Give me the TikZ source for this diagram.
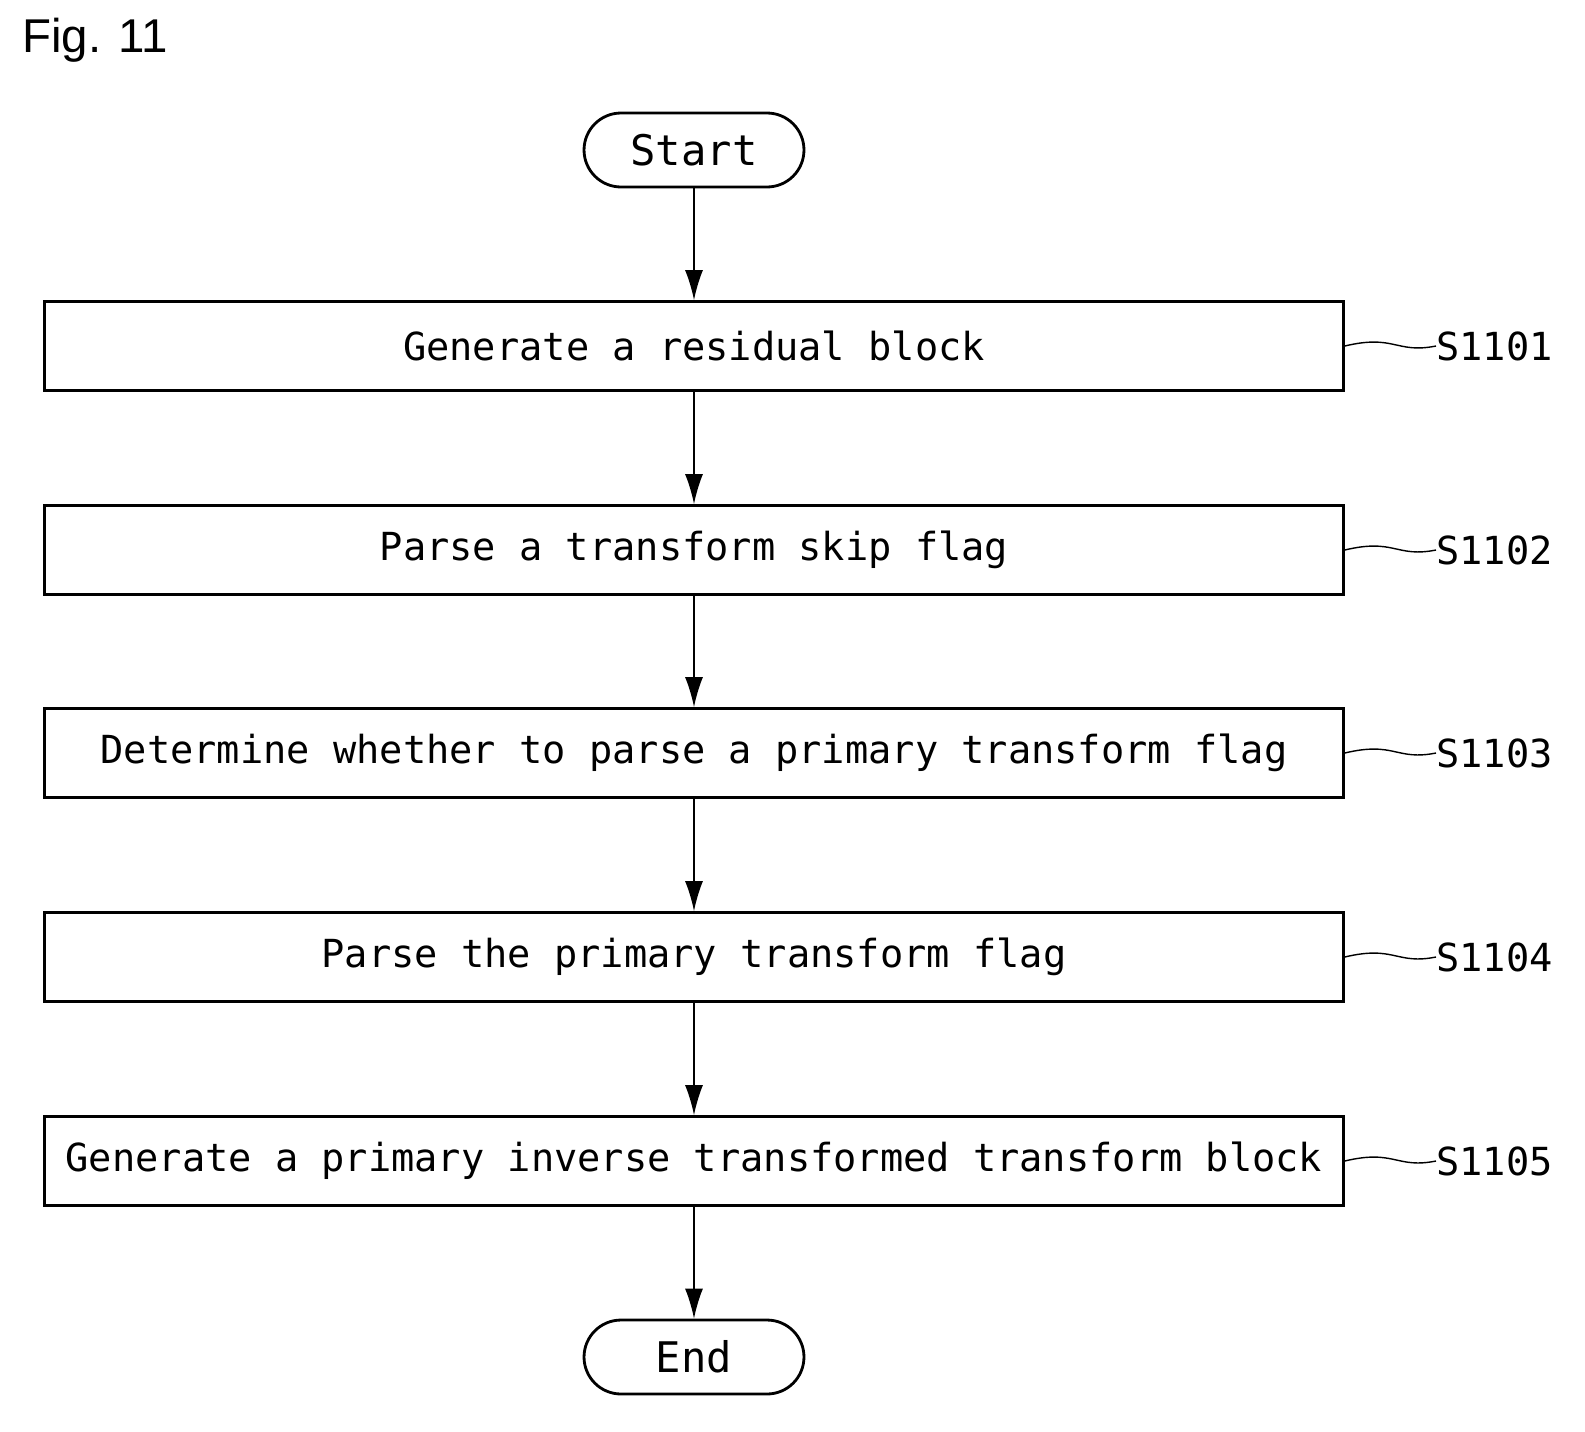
\documentclass[tikz,border=0pt]{standalone}
\usepackage{fontspec}
\setmonofont{DejaVu Sans Mono}
\setsansfont{Liberation Sans}
\usetikzlibrary{arrows.meta,positioning}
\tikzset{
  procbox/.style={draw,line width=1.6pt,minimum width=25.98cm,minimum height=1.78cm,font=\ttfamily\fontsize{22}{26}\selectfont},
  term/.style={draw,line width=1.6pt,rounded corners=0.74cm,minimum width=4.4cm,minimum height=1.48cm,font=\ttfamily\fontsize{24}{28}\selectfont},
  lbl/.style={font=\ttfamily\fontsize{22}{26}\selectfont,anchor=west,inner sep=0pt},
  flow/.style={line width=0.8pt,-{Latex[length=0.6cm,width=0.36cm]}}
}
\begin{document}
\begin{tikzpicture}[x=0.02cm,y=-0.02cm]
 \useasboundingbox (0,0) rectangle (1585,1431);
 \node[anchor=west,font=\sffamily\fontsize{27}{31}\selectfont] at (16,40) (fig) {Fig. 11};
 \node[term] at (694,150) (start) {Start};
 \node[procbox] at (694,346) (s1) {Generate a residual block};
 \node[procbox] at (694,550) (s2) {Parse a transform skip flag};
 \node[procbox] at (694,753) (s3) {Determine whether to parse a primary transform flag};
 \node[procbox] at (694,957) (s4) {Parse the primary transform flag};
 \node[procbox] at (694,1161) (s5) {Generate a primary inverse transformed transform block};
 \node[term] at (694,1357) (end) {End};
 \node[lbl] at (1436,346) (l1) {S1101};
 \node[lbl] at (1436,550) (l2) {S1102};
 \node[lbl] at (1436,753) (l3) {S1103};
 \node[lbl] at (1436,957) (l4) {S1104};
 \node[lbl] at (1436,1161) (l5) {S1105};

 \draw[flow] (start) -- (s1);
 \draw[flow] (s1) -- (s2);
 \draw[flow] (s2) -- (s3);
 \draw[flow] (s3) -- (s4);
 \draw[flow] (s4) -- (s5);
 \draw[flow] (s5) -- (end);
 \foreach \i in {1,...,5}
  \draw[line width=0.8pt] (s\i.east) .. controls +(50,-12) and +(-40,8) .. (l\i.west);
\end{tikzpicture}
\end{document}
